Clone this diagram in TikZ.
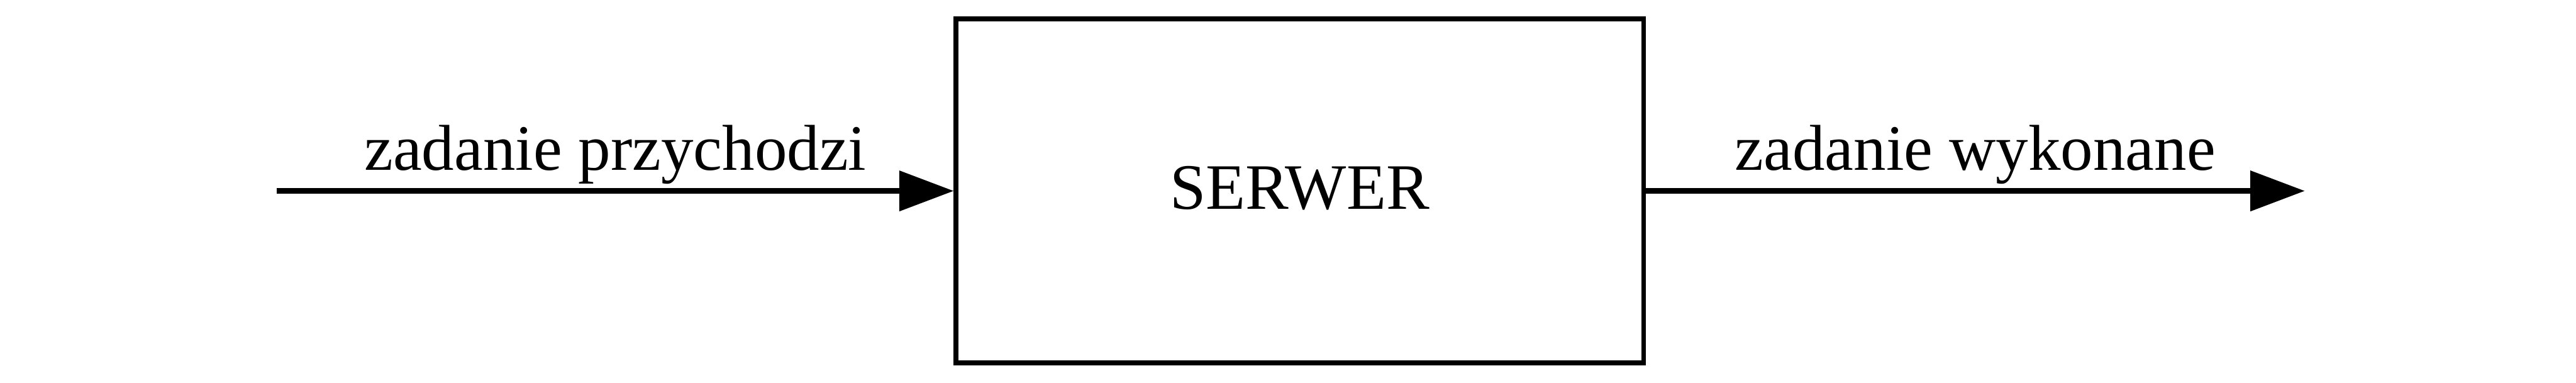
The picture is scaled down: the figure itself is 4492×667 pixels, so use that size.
\documentclass[tikz,border=0pt]{standalone}
\usepackage{fontspec}
\setmainfont{Liberation Serif}
\usetikzlibrary{arrows.meta}
\begin{document}
\begin{tikzpicture}[x=0.1pt,y=-0.1pt,
  server/.style={draw,line width=0.8pt,minimum width=119.9pt,minimum height=60pt,inner sep=0pt,text depth=1.2pt,font=\fontsize{11.3pt}{13pt}\selectfont},
  flow/.style={line width=0.9pt,-{Triangle[length=9.5pt,width=6.9pt]}},
  flowlabel/.style={midway,anchor=base,yshift=3.6pt,inner sep=0pt,font=\fontsize{11.3pt}{13pt}\selectfont}]
\useasboundingbox (0,0) rectangle (4492,667);
\node[server] (srv) at (2266.5,333) {SERWER};
\coordinate (in) at (483,333);
\coordinate (out) at (4019,333);
\draw[flow] (in) -- (srv.west) node[flowlabel] (l1) {zadanie przychodzi};
\draw[flow] (srv.east) -- (out) node[flowlabel] (l2) {zadanie wykonane};
\end{tikzpicture}
\end{document}
